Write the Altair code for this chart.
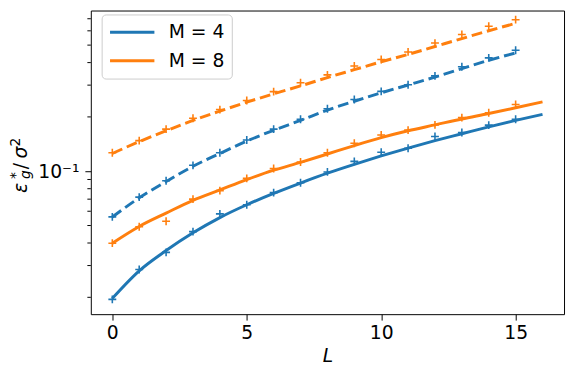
import altair as alt
import pandas as pd

# ---- data ----
L_markers = list(range(16))
blue_solid_pts = [0.01949, 0.02852, 0.03551, 0.04624, 0.0580, 0.0652, 0.0761, 0.0863,
                  0.0991, 0.1134, 0.1275, 0.1341, 0.1559, 0.1640, 0.1800, 0.1941]
orange_solid_pts = [0.03992, 0.04924, 0.05284, 0.07003, 0.07803, 0.09123, 0.1035, 0.1124,
                    0.1265, 0.1428, 0.1587, 0.1689, 0.1806, 0.1981, 0.2109, 0.2344]
blue_dashed_pts = [0.05585, 0.07185, 0.08851, 0.1078, 0.1265, 0.1490, 0.1712, 0.1941,
                   0.2218, 0.2497, 0.2771, 0.3015, 0.3376, 0.3795, 0.4250, 0.4683]
orange_dashed_pts = [0.1265, 0.1477, 0.1712, 0.1966, 0.2196, 0.2465, 0.2761, 0.3092,
                     0.3419, 0.3829, 0.4160, 0.4584, 0.5132, 0.5728, 0.6359, 0.6918]

L_solid = list(range(17))
blue_solid_line = [0.01973, 0.02806, 0.03632, 0.04555, 0.05535, 0.06519, 0.07535, 0.08602,
                   0.09752, 0.1092, 0.1215, 0.1344, 0.1477, 0.1613, 0.1762, 0.1912, 0.2067]
orange_solid_line = [0.03992, 0.04943, 0.05858, 0.0690, 0.07874, 0.08986, 0.1013, 0.1120,
                     0.1246, 0.1387, 0.1534, 0.1675, 0.1806, 0.1949, 0.2088, 0.2246, 0.2422]
L_dashed = list(range(16))
blue_dashed_line = [0.05571, 0.0712, 0.08762, 0.1065, 0.1254, 0.1468, 0.1686, 0.1912,
                    0.2182, 0.2443, 0.2720, 0.3007, 0.3326, 0.3701, 0.4119, 0.4526]
orange_dashed_line = [0.1254, 0.1459, 0.1675, 0.1912, 0.2154, 0.2413, 0.2685, 0.2970,
                      0.3305, 0.3655, 0.4042, 0.4441, 0.4912, 0.5433, 0.6007, 0.6601]

series_names = ["M = 4", "M = 8"]
series_colors = ["#1f77b4", "#ff7f0e"]
x_ticks = [0, 5, 10, 15]
y_major = [0.1]
y_minor = [0.02, 0.03, 0.04, 0.05, 0.06, 0.07, 0.08, 0.09, 0.2, 0.3, 0.4, 0.5, 0.6, 0.7]

# ---- tables ----
def frame(xs, ys, name):
    return pd.DataFrame({"L": xs, "value": ys, "M": name})

solid_lines = pd.concat([frame(L_solid, blue_solid_line, series_names[0]),
                         frame(L_solid, orange_solid_line, series_names[1])])
dashed_lines = pd.concat([frame(L_dashed, blue_dashed_line, series_names[0]),
                          frame(L_dashed, orange_dashed_line, series_names[1])])
points = pd.concat([frame(L_markers, blue_solid_pts, series_names[0]),
                    frame(L_markers, orange_solid_pts, series_names[1]),
                    frame(L_markers, blue_dashed_pts, series_names[0]),
                    frame(L_markers, orange_dashed_pts, series_names[1])])
minor = pd.DataFrame({"value": y_minor})

FONT = "DejaVu Sans"

x_enc = alt.X("L:Q",
              scale=alt.Scale(domain=[-0.8, 16.8], nice=False, zero=False),
              axis=alt.Axis(values=x_ticks, title="L", titleFontStyle="italic",
                            titleFontWeight="normal", titleFontSize=19, titleFont=FONT,
                            titlePadding=4, labelFontSize=19, labelFont=FONT,
                            labelPadding=4, tickSize=6, grid=False, domain=False,
                            labelFlush=False))
y_enc = alt.Y("value:Q",
              scale=alt.Scale(type="log", domain=[0.01613, 0.7774], nice=False),
              axis=alt.Axis(values=y_major, labelExpr="'10⁻¹'", title=None,
                            labelFontSize=19, labelFont=FONT, labelPadding=6,
                            tickSize=6, grid=False, domain=False, labelFlush=False))
color_scale = alt.Scale(domain=series_names, range=series_colors)

legend = alt.Legend(orient="none", legendX=11, legendY=4, title=None,
                    symbolType="stroke", symbolSize=2025, symbolStrokeWidth=3,
                    clipHeight=22,
                    labelFontSize=19, labelFont=FONT, labelColor="black",
                    fillColor="white", strokeColor="#cccccc", cornerRadius=4,
                    padding=7, rowPadding=7, labelOffset=13)

solid = alt.Chart(solid_lines).mark_line(strokeWidth=3, interpolate="monotone").encode(
    x=x_enc, y=y_enc,
    color=alt.Color("M:N", scale=color_scale, legend=legend))

dashed = alt.Chart(dashed_lines).mark_line(strokeWidth=3, strokeDash=[11, 5],
                                           interpolate="monotone").encode(
    x=x_enc, y=y_enc,
    color=alt.Color("M:N", scale=color_scale, legend=None))

plus_path = "M-1,0L1,0M0,-1L0,1"
markers = alt.Chart(points).mark_point(shape=plus_path, filled=False, size=64,
                                       strokeWidth=1.6, opacity=1).encode(
    x=x_enc, y=y_enc,
    color=alt.Color("M:N", scale=color_scale, legend=None))

minor_ticks = alt.Chart(minor).mark_rule(color="black", strokeWidth=1).encode(
    y=alt.Y("value:Q"), x=alt.value(-3.5), x2=alt.value(0))

# y-axis title built from text pieces: eps_g^* / sigma^2
def piece(t, x, y, size, italic):
    kw = dict(angle=270, align="left", baseline="alphabetic", fontSize=size,
              font=FONT, color="black")
    if italic:
        kw["fontStyle"] = "italic"
    return alt.Chart(pd.DataFrame({"t": [t]})).mark_text(**kw).encode(
        text="t:N", x=alt.value(x), y=alt.value(y))

title_parts = [
    piece("ε", -65, 185, 19, True),
    piece("g", -62, 171, 14, True),
    piece("*", -72, 171, 14, False),
    piece("/", -65, 161, 19, False),
    piece("σ", -65, 150, 19, True),
    piece("2", -72, 138, 14, False),
]

chart = alt.layer(minor_ticks, solid, dashed, markers, *title_parts).resolve_legend(
    color="independent"
).properties(
    width=480, height=308,
    padding={"left": 84, "top": 0, "right": 2, "bottom": 50},
    autosize=alt.AutoSizeParams(type="none"),
).configure_view(stroke="black", strokeWidth=1).configure_axis(
    tickColor="black", labelColor="black", titleColor="black")

chart.save("out.html", embed_options={"renderer": "svg", "actions": False})
